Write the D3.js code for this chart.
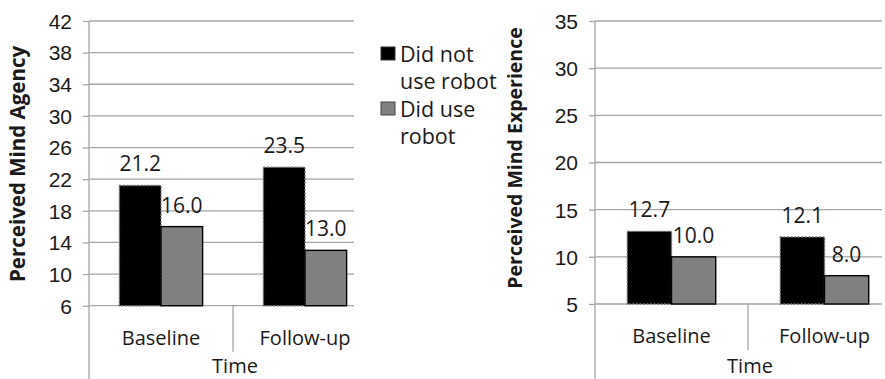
<!DOCTYPE html>
<html>
<head>
<meta charset="utf-8">
<script src="https://cdn.jsdelivr.net/npm/d3@7"></script>
<style>
  html, body { margin: 0; padding: 0; background: #fff; }
  svg { display: block; font-family: "Open Sans", sans-serif; }
</style>
</head>
<body>
<svg id="chart" width="885" height="379"></svg>
<script>
// Time points and groups
const categories = ["Baseline", "Follow-up"];
const seriesNames = ["Did not use robot", "Did use robot"];

// Perceived Mind Agency (means)
const agencyNoRobot = [21.2, 23.5];
const agencyRobot = [16.0, 13.0];
const agencyTicks = [6, 10, 14, 18, 22, 26, 30, 34, 38, 42];

// Perceived Mind Experience (means)
const experienceNoRobot = [12.7, 12.1];
const experienceRobot = [10.0, 8.0];
const experienceTicks = [5, 10, 15, 20, 25, 30, 35];

const svg = d3.select("#chart");
const textColor = "#1a1a1a";
const gridColor = "#a6a6a6";
const seriesFill = ["#000000", "#808080"];

function drawPanel(opt) {
  const g = svg.append("g");
  const y = d3.scaleLinear().domain(opt.domain).range([opt.bottom, opt.top]);
  const x = d3.scaleBand().domain(categories).range([opt.left, opt.right]).padding(0);
  const xs = d3.scaleBand().domain(seriesNames).range([0, x.bandwidth()])
    .paddingInner(0).paddingOuter(0.73);

  // horizontal gridlines
  g.append("g").selectAll("line").data(opt.ticks).join("line")
    .attr("x1", opt.left).attr("x2", opt.gridRight)
    .attr("y1", d => y(d)).attr("y2", d => y(d))
    .attr("stroke", gridColor).attr("stroke-width", 1.3);

  // y axis with outward ticks
  const yAxis = d3.axisLeft(y).tickValues(opt.ticks).tickSize(6).tickPadding(11)
    .tickFormat(d3.format("d"));
  const ya = g.append("g").attr("transform", `translate(${opt.left},0)`).call(yAxis);
  ya.select(".domain").remove();
  ya.selectAll(".tick line").attr("stroke", gridColor).attr("stroke-width", 1.3);
  ya.selectAll(".tick text").attr("fill", textColor)
    .style("font-size", "21px").attr("dy", "0.35em");

  // vertical axis line, running down past the category labels
  g.append("line")
    .attr("x1", opt.left).attr("x2", opt.left)
    .attr("y1", opt.top).attr("y2", 379)
    .attr("stroke", gridColor).attr("stroke-width", 1.3);

  // category divider
  g.append("line")
    .attr("x1", x(categories[1])).attr("x2", x(categories[1]))
    .attr("y1", opt.bottom).attr("y2", opt.bottom + 46)
    .attr("stroke", gridColor).attr("stroke-width", 1.3);

  // bars
  const rows = [];
  categories.forEach((c, i) => {
    rows.push({ cat: c, s: seriesNames[0], v: opt.a[i], k: 0 });
    rows.push({ cat: c, s: seriesNames[1], v: opt.b[i], k: 1 });
  });
  const base = opt.domain[0];
  g.append("g").selectAll("rect").data(rows).join("rect")
    .attr("x", d => x(d.cat) + xs(d.s))
    .attr("width", xs.bandwidth())
    .attr("y", d => y(d.v))
    .attr("height", d => y(base) - y(d.v))
    .attr("fill", d => seriesFill[d.k])
    .attr("stroke", d => d.k === 0 ? "#707070" : "#000")
    .attr("stroke-dasharray", d => d.k === 0 ? "2,1.5" : null)
    .attr("stroke-width", 1.4);

  // value labels
  g.append("g").selectAll("text").data(rows).join("text")
    .attr("x", d => x(d.cat) + xs(d.s) + xs.bandwidth() / 2)
    .attr("y", d => y(d.v) - 14)
    .attr("text-anchor", "middle")
    .attr("fill", textColor)
    .style("font-size", "21px")
    .text(d => d.v.toFixed(1));

  // category labels
  g.append("g").selectAll("text").data(categories).join("text")
    .attr("x", d => x(d) + x.bandwidth() / 2)
    .attr("y", opt.bottom + 39)
    .attr("text-anchor", "middle")
    .attr("fill", textColor)
    .style("font-size", "20px")
    .text(d => d);

  // axis titles
  g.append("text")
    .attr("x", x(categories[1]) + 2)
    .attr("y", 373)
    .attr("text-anchor", "middle")
    .attr("fill", textColor)
    .style("font-size", "20px")
    .text("Time");

  g.append("text")
    .attr("transform", `translate(${opt.titleX},${opt.titleY}) rotate(-90)`)
    .attr("text-anchor", "middle")
    .attr("fill", textColor)
    .style("font-size", opt.titleSize)
    .style("font-weight", "bold")
    .text(opt.title);
}

drawPanel({
  title: "Perceived Mind Agency", titleSize: "20.5px",
  a: agencyNoRobot, b: agencyRobot, ticks: agencyTicks,
  domain: [6, 42], top: 21, bottom: 305.7,
  left: 89, right: 377, gridRight: 354,
  titleX: 25, titleY: 164
});

drawPanel({
  title: "Perceived Mind Experience", titleSize: "19.5px",
  a: experienceNoRobot, b: experienceRobot, ticks: experienceTicks,
  domain: [5, 35], top: 21, bottom: 304,
  left: 595, right: 901, gridRight: 882,
  titleX: 522, titleY: 158
});

// legend
const legend = svg.append("g").attr("transform", "translate(381,0)");
const legendRows = [
  { lines: ["Did not", "use robot"], k: 0, y: 47 },
  { lines: ["Did use", "robot"], k: 1, y: 102 }
];
legendRows.forEach(r => {
  legend.append("rect")
    .attr("x", 0).attr("y", r.y).attr("width", 14).attr("height", 13)
    .attr("fill", seriesFill[r.k])
    .attr("stroke", r.k === 0 ? "#333" : "#444").attr("stroke-width", 1);
  const t = legend.append("text")
    .attr("fill", textColor)
    .style("font-size", "21.5px");
  r.lines.forEach((line, i) => {
    t.append("tspan").attr("x", 19).attr("y", r.y + 15 + i * 26.5).text(line);
  });
});
</script>
</body>
</html>
